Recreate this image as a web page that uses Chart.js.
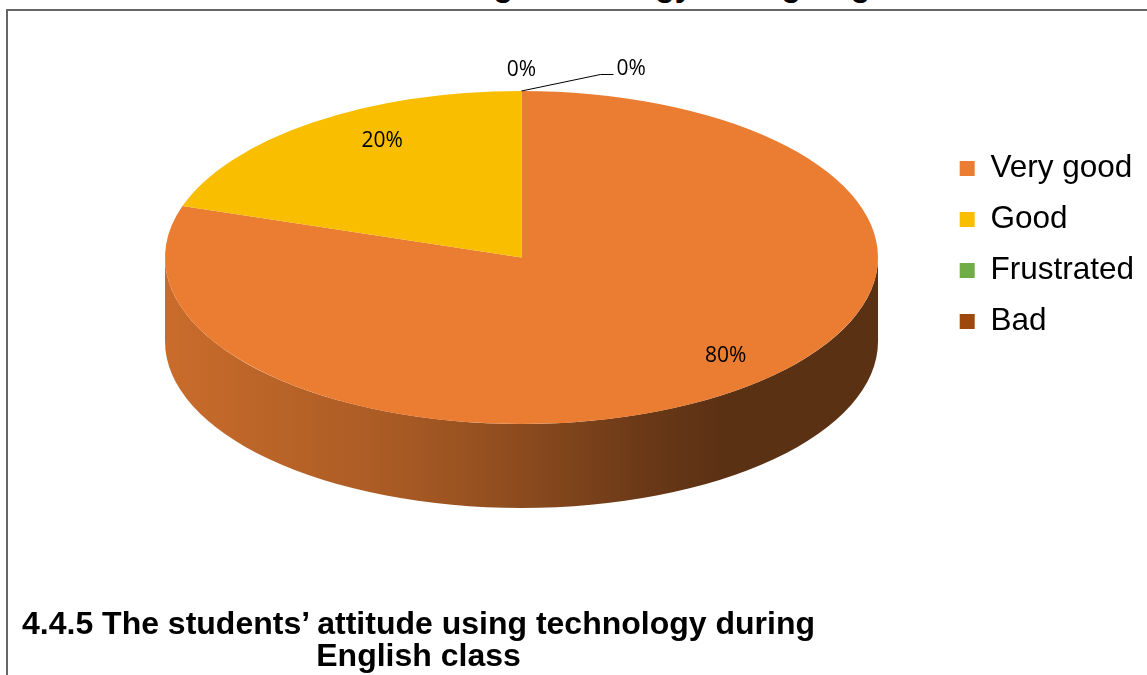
<!DOCTYPE html>
<html>
<head>
<meta charset="utf-8">
<script src="https://cdn.jsdelivr.net/npm/chart.js@4.4.1/dist/chart.umd.min.js"></script>
<style>
  html, body { margin: 0; padding: 0; background: #fff; overflow: hidden; }
  #wrap { position: relative; width: 1147px; height: 675px; overflow: hidden; }
  #frame { position: absolute; left: 6px; top: 9px; width: 1200px; height: 700px; border: 2px solid #666; box-sizing: border-box; }
  canvas { position: absolute; left: 0; top: 0; }
  .heading { position: absolute; font-family: 'Liberation Sans', Arial, sans-serif; font-weight: bold; font-size: 32px; line-height: 32px; color: #000; white-space: nowrap; }
</style>
</head>
<body>
<div id="wrap">
  <div class="heading" style="left:8px; top:-31px;">4.4.5 The students’ attitude using technology during English class</div>
  <div id="frame"></div>
  <canvas id="chart" width="1147" height="675"></canvas>
  <div class="heading" style="left:20px; top:607px; width:797px; text-align:center;">4.4.5 The students’ attitude using technology during<br>English class</div>
</div>
<script>
// answers, share of students in percent
var categories = ['Very good', 'Good', 'Frustrated', 'Bad'];
var percents = [80, 20, 0, 0];
var sliceColors = ['#EA7D32', '#F9BE00', '#70AD47', '#9E480E'];

// where the tilted pie sits on the page
var PIE = { cx: 521.5, cy: 257.5, rx: 356.5, ry: 166.5, depth: 84 };
// darkening of the side wall from left to right
var sideStops = [[0, 0.86], [0.33, 0.72], [0.5, 0.6], [0.68, 0.45], [0.78, 0.39], [1, 0.39]];

function shade(hex, k) {
  var n = parseInt(hex.slice(1), 16);
  var r = Math.round(((n >> 16) & 255) * k);
  var g = Math.round(((n >> 8) & 255) * k);
  var b = Math.round((n & 255) * k);
  return 'rgb(' + r + ',' + g + ',' + b + ')';
}

// rough perspective for label spots: u,v on the unit disc -> page
function project(u, v) {
  var c = -0.177;
  var d = c * v + 1;
  return { x: PIE.cx + 354 * u / d, y: (120.9 * v + 228) / d };
}

var pie3d = {
  id: 'pie3d',
  beforeDatasetsDraw: function (chart) {
    var ctx = chart.ctx;
    var arcs = chart.getDatasetMeta(0).data;

    /* side wall, only the front half can be seen */
    arcs.forEach(function (arc, i) {
      var p = arc.getProps(['startAngle', 'endAngle'], true);
      for (var k = -1; k <= 1; k++) {
        var a0 = Math.max(p.startAngle, k * 2 * Math.PI);
        var a1 = Math.min(p.endAngle, k * 2 * Math.PI + Math.PI);
        if (a1 - a0 <= 0.0001) continue;
        var grad = ctx.createLinearGradient(PIE.cx - PIE.rx, 0, PIE.cx + PIE.rx, 0);
        sideStops.forEach(function (s) { grad.addColorStop(s[0], shade(sliceColors[i], s[1])); });
        ctx.beginPath();
        ctx.ellipse(PIE.cx, PIE.cy, PIE.rx, PIE.ry, 0, a0, a1);
        ctx.ellipse(PIE.cx, PIE.cy + PIE.depth, PIE.rx, PIE.ry, 0, a1, a0, true);
        ctx.closePath();
        ctx.fillStyle = grad;
        ctx.fill();
      }
    });

    /* squash the flat pie into the top face */
    var c = arcs[0];
    ctx.save();
    ctx.translate(PIE.cx, PIE.cy);
    ctx.scale(1, PIE.ry / PIE.rx);
    ctx.translate(-c.x, -c.y);
  },
  afterDatasetsDraw: function (chart) {
    var ctx = chart.ctx;
    ctx.restore();

    var arcs = chart.getDatasetMeta(0).data;
    var zeros = 0;
    ctx.save();
    ctx.fillStyle = '#000';
    ctx.strokeStyle = '#000';
    ctx.font = "21px 'Open Sans', 'Liberation Sans', sans-serif";
    ctx.textBaseline = 'middle';
    arcs.forEach(function (arc, i) {
      var p = arc.getProps(['startAngle', 'endAngle', 'circumference'], true);
      var mid = (p.startAngle + p.endAngle) / 2;
      var txt = percents[i] + '%';
      if (percents[i] > 0) {
        // bigger slices push their label further out
        var f = 0.7 + 0.2 * p.circumference / (2 * Math.PI);
        var pt = project(f * Math.cos(mid), f * Math.sin(mid));
        ctx.textAlign = 'center';
        ctx.fillText(txt, pt.x, pt.y);
      } else {
        var rim = project(Math.cos(mid), Math.sin(mid));
        if (zeros === 0) {
          ctx.textAlign = 'center';
          ctx.fillText(txt, rim.x, rim.y - 21);
        } else {
          // leader line for the second empty slice
          ctx.lineWidth = 1;
          ctx.beginPath();
          ctx.moveTo(rim.x, rim.y);
          ctx.lineTo(rim.x + 79, rim.y - 16.5);
          ctx.lineTo(rim.x + 92, rim.y - 16.5);
          ctx.stroke();
          ctx.textAlign = 'left';
          ctx.fillText(txt, rim.x + 95, rim.y - 22);
        }
        zeros++;
      }
    });
    ctx.restore();
  }
};

new Chart(document.getElementById('chart'), {
  type: 'pie',
  data: {
    labels: categories,
    datasets: [{
      data: percents,
      backgroundColor: sliceColors,
      borderWidth: 0,
      radius: PIE.rx,
      clip: false,
      hoverOffset: 0
    }]
  },
  options: {
    responsive: false,
    animation: false,
    layout: { padding: { top: 0, bottom: 185, left: 0, right: 3 } },
    plugins: {
      legend: {
        position: 'right',
        labels: {
          boxWidth: 15,
          boxHeight: 15,
          padding: 19.5,
          color: '#000',
          font: { family: "'Liberation Sans', Arial, sans-serif", size: 31.5 }
        }
      },
      tooltip: { enabled: false }
    }
  },
  plugins: [pie3d]
});
</script>
</body>
</html>
